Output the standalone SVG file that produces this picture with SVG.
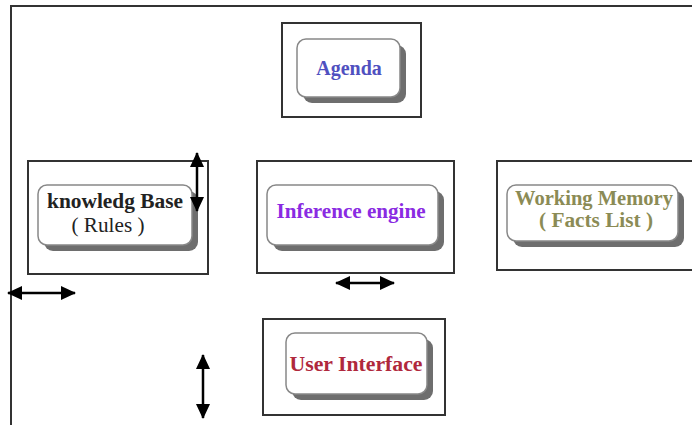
<svg xmlns="http://www.w3.org/2000/svg" width="692" height="425" viewBox="0 0 692 425">
<defs>
<marker id="ah" viewBox="0 0 15 14" refX="14" refY="7" markerWidth="15" markerHeight="14" markerUnits="userSpaceOnUse" orient="auto-start-reverse">
<path d="M0,0 L15,7 L0,14 Z" fill="#000"/>
</marker>
</defs>
<style>
.frame{stroke:#333;stroke-width:2;fill:none}
.outer{fill:none;stroke:#333;stroke-width:2}
.shadow{fill:#6e6e6e}
.inner{fill:#fff;stroke:#888;stroke-width:1.5}
.t{font-family:"Liberation Serif","Times New Roman",serif;font-weight:bold;font-size:20px;text-anchor:middle}
.arr{stroke:#000;stroke-width:2.5;fill:none;marker-start:url(#ah);marker-end:url(#ah)}
</style>
<rect width="692" height="425" fill="#fff"/>
<path class="frame" d="M11,425 V6 H692"/>
<g id="agenda">
<rect class="outer" x="282" y="23" width="139" height="94"/>
<rect class="shadow" x="303" y="45" width="103" height="58" rx="9"/>
<rect class="inner" x="297" y="39" width="103" height="58" rx="9"/>
<text class="t" x="349" y="75" fill="#5050c0">Agenda</text>
</g>
<g id="knowledge">
<rect class="outer" x="28" y="161" width="180" height="113"/>
<rect class="shadow" x="44" y="191" width="154" height="60" rx="9"/>
<rect class="inner" x="38" y="185" width="154" height="60" rx="9"/>
<text class="t" x="115" y="208" fill="#222" textLength="136" lengthAdjust="spacingAndGlyphs">knowledg Base</text>
<text class="t" x="108" y="232" fill="#222" style="font-weight:normal" textLength="73" lengthAdjust="spacingAndGlyphs">( Rules )</text>
</g>
<g id="inference">
<rect class="outer" x="257" y="161" width="197" height="112"/>
<rect class="shadow" x="273" y="191" width="171" height="60" rx="9"/>
<rect class="inner" x="267" y="185" width="171" height="60" rx="9"/>
<text class="t" x="351" y="218" fill="#8a2be2" textLength="149" lengthAdjust="spacingAndGlyphs">Inference engine</text>
</g>
<g id="working">
<rect class="outer" x="497" y="161" width="200" height="109"/>
<rect class="shadow" x="513" y="191" width="171" height="56" rx="9"/>
<rect class="inner" x="507" y="185" width="171" height="56" rx="9"/>
<text class="t" x="594" y="205" fill="#8b8b55" textLength="158" lengthAdjust="spacingAndGlyphs">Working Memory</text>
<text class="t" x="596" y="227" fill="#8b8b55" textLength="114" lengthAdjust="spacingAndGlyphs">( Facts List )</text>
</g>
<g id="user">
<rect class="outer" x="263" y="319" width="182" height="96"/>
<rect class="shadow" x="292" y="339" width="141" height="61" rx="9"/>
<rect class="inner" x="286" y="333" width="141" height="61" rx="9"/>
<text class="t" x="356" y="371" fill="#b0283c" textLength="133" lengthAdjust="spacingAndGlyphs">User Interface</text>
</g>
<g id="connectors">
<line class="arr" x1="197" y1="153" x2="197" y2="211"/>
<line class="arr" x1="8" y1="293" x2="75" y2="293"/>
<line class="arr" x1="336" y1="283" x2="394" y2="283"/>
<line class="arr" x1="203" y1="355" x2="203" y2="418"/>
</g>
</svg>
